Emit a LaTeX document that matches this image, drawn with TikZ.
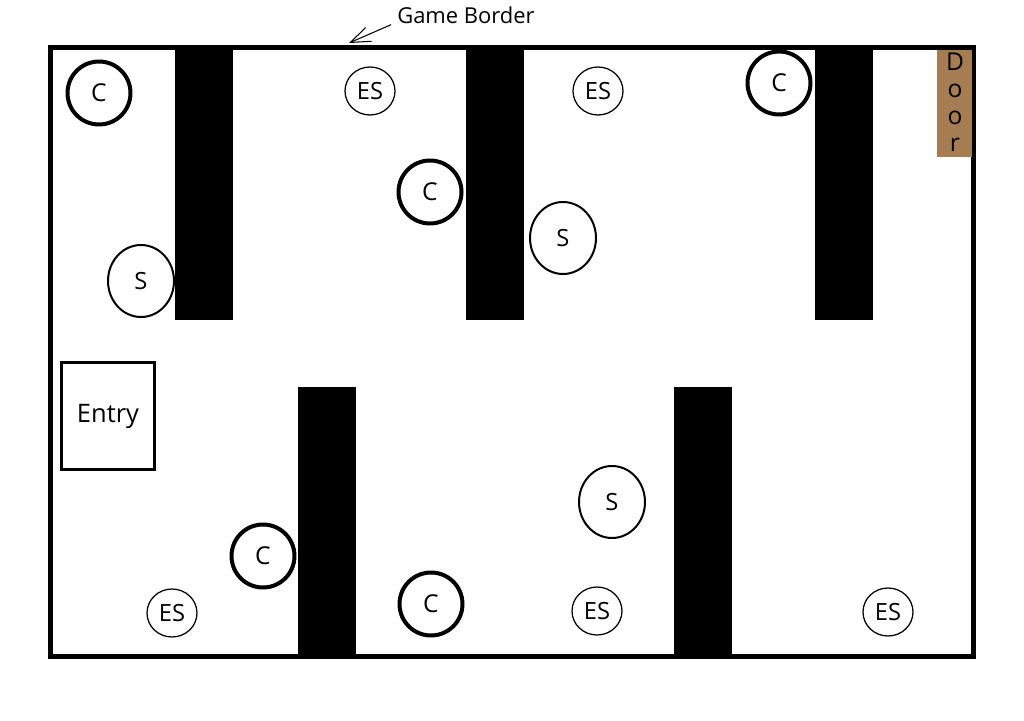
\documentclass[tikz,border=0pt]{standalone}
\usepackage{fontspec}
\setmainfont{Open Sans}
\usetikzlibrary{shapes.geometric,arrows.meta}
\definecolor{doorbrown}{RGB}{166,124,82}
\tikzset{
	coin/.style={circle, draw, line width=0.08cm, minimum size=1.26cm, inner sep=0pt, font=\fontsize{14}{16}\selectfont},
	spot/.style={ellipse, draw, line width=0.04cm, minimum width=1.32cm, minimum height=1.44cm, inner sep=0pt, font=\fontsize{13.5}{16}\selectfont},
	espot/.style={ellipse, draw, line width=0.025cm, minimum width=1.0cm, minimum height=0.96cm, inner sep=0pt, font=\fontsize{13.5}{16}\selectfont},
	wall/.style={fill=black}
}
\begin{document}
\begin{tikzpicture}[x=0.02cm, y=-0.02cm]
		\useasboundingbox (0,0) rectangle (1024,720);
		
		% Draw the game border
		\draw[line width=0.1cm] (50,47) rectangle (973,656);
		
		% Draw the walls hanging from the top
		\foreach \x in {175,466,815} {
			\fill[wall] (\x,47) rectangle (\x+58,320);
		}
		
		% Draw the walls standing on the bottom
		\foreach \x in {298,674} {
			\fill[wall] (\x,387) rectangle (\x+58,656);
		}
		
		% Door in the top right corner
		\fill[doorbrown] (937,50) rectangle (972,157);
		\node[align=center, font=\fontsize{14}{15.3}\selectfont] (door) at (955,102) {D\\o\\o\\r};
		
		% Entry box
		\node[draw, line width=0.07cm, minimum width=1.86cm, minimum height=2.14cm, inner sep=0pt, font=\fontsize{14.5}{16}\selectfont] (entry) at (108,416) {Entry};
		
		% Coins
		\node[coin] (c1) at (99,93) {C};
		\node[coin] (c2) at (779,83) {C};
		\node[coin] (c3) at (430,192) {C};
		\node[coin] (c4) at (263,556) {C};
		\node[coin] (c5) at (431,604) {C};
		
		% Spots
		\node[spot] (s1) at (141,281) {S};
		\node[spot] (s2) at (563,238) {S};
		\node[spot] (s3) at (612,502) {S};
		
		% Enemy spots
		\node[espot] (es1) at (370,91) {ES};
		\node[espot] (es2) at (598,91) {ES};
		\node[espot] (es3) at (172,613) {ES};
		\node[espot] (es4) at (597,611) {ES};
		\node[espot] (es5) at (888,612) {ES};
		
		% Border label
		\node[font=\fontsize{12.5}{14}\selectfont] (label) at (466,15) {Game Border};
		\coordinate (edge) at (349,43);
		\draw[line width=0.6pt, -{Straight Barb[length=0.4cm, width=0.3cm]}] ([yshift=-5.5pt]label.west) -- (edge);
	\end{tikzpicture}
\end{document}
